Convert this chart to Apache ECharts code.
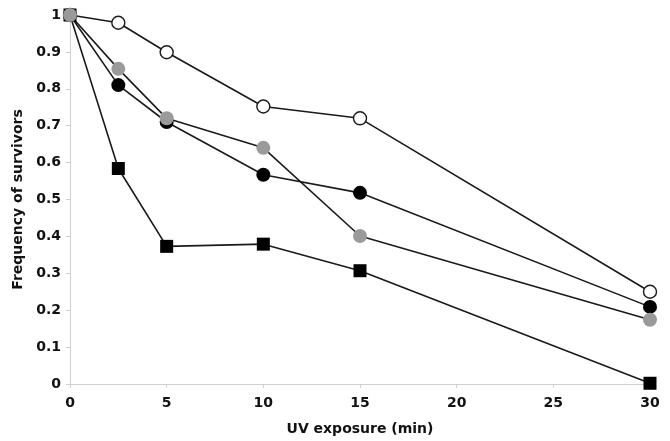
<!DOCTYPE html>
<html>
<head>
<meta charset="utf-8">
<script src="https://cdn.jsdelivr.net/npm/echarts@6/dist/echarts.min.js"></script>
<style>html,body{margin:0;padding:0;background:#fff}#c{width:670px;height:441px}</style>
</head>
<body>
<div id="c"></div>
<script>
var xValues = [0, 2.5, 5, 10, 15, 30];
var openCircle = [1, 0.979, 0.899, 0.752, 0.72, 0.25];
var blackCircle = [1, 0.81, 0.71, 0.567, 0.518, 0.209];
var grayCircle = [1, 0.854, 0.72, 0.64, 0.401, 0.174];
var blackSquare = [1, 0.584, 0.373, 0.379, 0.307, 0.002];
var xTicks = [0, 5, 10, 15, 20, 25, 30];
var yTicks = [0, 0.1, 0.2, 0.3, 0.4, 0.5, 0.6, 0.7, 0.8, 0.9, 1];

function pairs(vals) { return xValues.map(function (x, i) { return [x, vals[i]]; }); }
function mk(data, symbol, fill, border, size) {
  return {
    type: 'line', data: pairs(data), symbol: symbol, symbolSize: size,
    showAllSymbol: true, animation: false,
    lineStyle: { color: '#1a1a1a', width: 1.6 },
    itemStyle: { color: fill, borderColor: border, borderWidth: border === fill ? 0 : 1.4 },
    emphasis: { disabled: true }
  };
}
var font = 'DejaVu Sans';
var chart = echarts.init(document.getElementById('c'), null, { renderer: 'canvas' });
chart.setOption({
  backgroundColor: '#fff',
  grid: { left: 70, right: 20, top: 15, bottom: 57 },
  xAxis: {
    type: 'value', min: 0, max: 30, interval: 5,
    name: 'UV exposure (min)', nameLocation: 'middle', nameGap: 38,
    nameTextStyle: { fontFamily: font, fontWeight: 'bold', fontSize: 14, color: '#111' },
    axisLine: { lineStyle: { color: '#d0d0d0', width: 1 } },
    axisTick: { show: true, length: 4, lineStyle: { color: '#d0d0d0' } },
    axisLabel: { fontFamily: font, fontWeight: 'bold', fontSize: 14, color: '#111', margin: 12,
      formatter: function (v) { return xTicks.indexOf(v) >= 0 ? String(v) : ''; } },
    splitLine: { show: false }
  },
  yAxis: {
    type: 'value', min: 0, max: 1, interval: 0.1,
    name: 'Frequency of survivors', nameLocation: 'middle', nameGap: 40,
    nameTextStyle: { fontFamily: font, fontWeight: 'bold', fontSize: 14, color: '#111' },
    axisLine: { show: true, lineStyle: { color: '#d0d0d0', width: 1 } },
    axisTick: { show: true, length: 4, lineStyle: { color: '#d0d0d0' } },
    axisLabel: { fontFamily: font, fontWeight: 'bold', fontSize: 14, color: '#111', margin: 9,
      formatter: function (v) { var r = Math.round(v * 10) / 10; return yTicks.indexOf(r) >= 0 ? String(r) : ''; } },
    splitLine: { show: false }
  },
  series: [
    mk(openCircle, 'circle', '#ffffff', '#1a1a1a', 13),
    mk(blackCircle, 'circle', '#000000', '#000000', 14),
    mk(blackSquare, 'rect', '#000000', '#000000', 13),
    mk(grayCircle, 'circle', '#9a9a9a', '#9a9a9a', 14)
  ]
});
</script>
</body>
</html>
